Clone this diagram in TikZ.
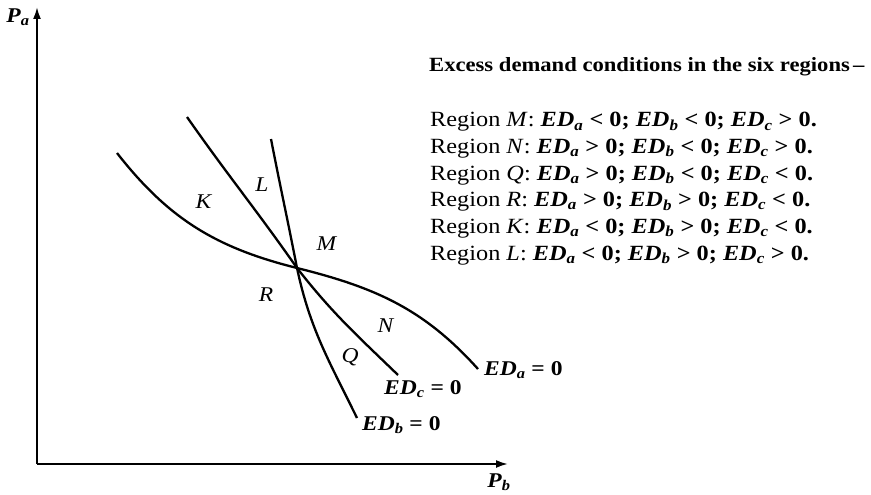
\documentclass[tikz,border=0pt]{standalone}
\usepackage{fontspec}
\setmainfont{Liberation Serif}[FakeStretch=1.12]
\usepackage{tikz}
\usetikzlibrary{arrows.meta}

\newcommand{\edsub}[1]{\textbf{\textit{ED}\textsubscript{\textit{#1}}}}
\newcommand{\regline}[4]{Region \textit{#1}: \textbf{\edsub{a} #2 0; \edsub{b} #3 0; \edsub{c} #4 0.}}

\begin{document}
\begin{tikzpicture}[x=1pt, y=-1pt, >={Latex[length=12pt, width=8pt]},
    curve/.style={line width=2.3pt},
    axis/.style={line width=2pt, ->},
    lbl/.style={font=\fontsize{21}{25}\selectfont, inner sep=0pt},
    rowlbl/.style={font=\fontsize{21.7}{25}\selectfont, inner sep=0pt, anchor=base west}]
    \useasboundingbox (0,0) rectangle (871,495);
    % axes
    \coordinate (O) at (37,464);
    \coordinate (ytip) at (37,7);
    \coordinate (xtip) at (508,464);
    \draw[axis] (O) -- (ytip);
    \draw[axis] (O) -- (xtip);
    \node[lbl] (pa) at (18,17) {\textbf{\textit{P}\textsubscript{\textit{a}}}};
    \node[lbl] (pb) at (499,482) {\textbf{\textit{P}\textsubscript{\textit{b}}}};
    % the three curves
    \coordinate (X) at (297,268);
    \coordinate (a1) at (117,153);
    \coordinate (a2) at (478,369);
    \coordinate (b1) at (271,139);
    \coordinate (b2) at (357,418);
    \coordinate (c1) at (187,117);
    \coordinate (c2) at (398,375);
    \draw[curve] (a1) to[out=-52, in=166] (X) to[out=-14, in=132] (a2);
    \draw[curve] (b1) to[out=-79, in=101] (X) to[out=-78, in=116] (b2);
    \draw[curve] (c1) to[out=-55, in=125] (X) to[out=-52, in=136] (c2);
    \node[lbl, anchor=base west] (eda) at (484,375) {\edsub{a} \textbf{= 0}};
    \node[lbl, anchor=base west] (edc) at (384,394) {\edsub{c} \textbf{= 0}};
    \node[lbl, anchor=base west] (edb) at (362,430) {\edsub{b} \textbf{= 0}};
    % regions
    \node[lbl] (K) at (204,202) {\textit{K}};
    \node[lbl] (L) at (262,185) {\textit{L}};
    \node[lbl] (M) at (327,244) {\textit{M}};
    \node[lbl] (R) at (266,295) {\textit{R}};
    \node[lbl] (N) at (386,326) {\textit{N}};
    \node[lbl] (Q) at (350,357) {\textit{Q}};
    % conditions
    \node[lbl, anchor=base west, font=\fontsize{20.2}{24}\selectfont] (title) at (429,72) {\textbf{Excess demand conditions in the six regions\,--}};
    \node[rowlbl] (rM) at (430,127) {\regline{M}{<}{<}{>}};
    \node[rowlbl] (rN) at (430,153.6) {\regline{N}{>}{<}{>}};
    \node[rowlbl] (rQ) at (430,180.2) {\regline{Q}{>}{<}{<}};
    \node[rowlbl] (rR) at (430,206.8) {\regline{R}{>}{>}{<}};
    \node[rowlbl] (rK) at (430,233.4) {\regline{K}{<}{>}{<}};
    \node[rowlbl] (rL) at (430,260) {\regline{L}{<}{>}{>}};
\end{tikzpicture}
\end{document}
